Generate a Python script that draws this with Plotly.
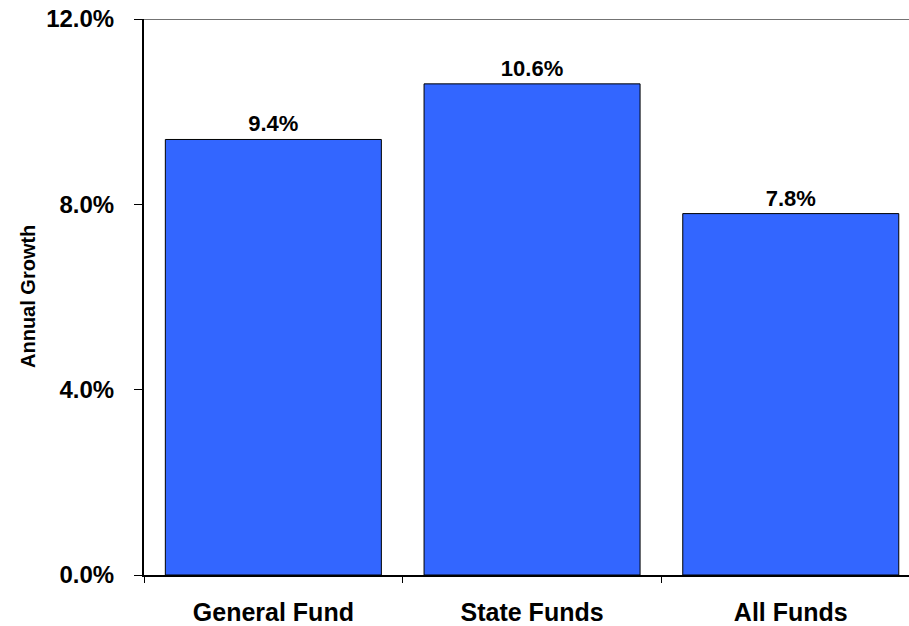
import plotly.graph_objects as go

categories = ["General Fund", "State Funds", "All Funds"]
growth_pct = [9.4, 10.6, 7.8]
y_ticks = [0, 4, 8, 12]
y_tick_labels = ["0.0%", "4.0%", "8.0%", "12.0%"]

W, H = 909, 626
left, top, bottom = 144, 19, 49

fig = go.Figure(
    go.Bar(
        x=categories,
        y=growth_pct,
        width=0.835,
        marker=dict(color="#3366FF", line=dict(color="#000000", width=1)),
        text=[f"{v:.1f}%" for v in growth_pct],
        textposition="outside",
        textfont=dict(family="Liberation Sans, Arial", size=22, color="#000000", weight="bold"),
        cliponaxis=False,
        hoverinfo="skip",
    )
)

fig.update_layout(
    width=W,
    height=H,
    margin=dict(l=left, r=0, t=top, b=bottom, pad=0),
    paper_bgcolor="white",
    plot_bgcolor="white",
    showlegend=False,
    font=dict(family="Liberation Sans, Arial", color="#000000"),
    xaxis=dict(
        range=[-0.5, 2.457],
        showgrid=False,
        showline=True,
        linecolor="#000000",
        linewidth=2,
        ticks="outside",
        tickson="boundaries",
        ticklen=6,
        tickwidth=1,
        tickcolor="#000000",
        tickfont=dict(size=25, weight="bold"),
        ticklabelstandoff=14,
        fixedrange=True,
    ),
    yaxis=dict(
        range=[0, 12],
        tickvals=y_ticks,
        ticktext=y_tick_labels,
        showgrid=False,
        zeroline=False,
        showline=True,
        linecolor="#000000",
        linewidth=2,
        ticks="outside",
        ticklen=8,
        tickwidth=1,
        tickcolor="#000000",
        tickfont=dict(size=24, weight="bold"),
        ticklabelstandoff=15,
        fixedrange=True,
    ),
    shapes=[
        dict(
            type="line", xref="paper", yref="y",
            x0=0, x1=1, y0=12, y1=12,
            line=dict(color="#444444", width=1.5),
        )
    ],
    annotations=[
        dict(
            text="Annual Growth",
            xref="paper", yref="paper",
            x=-(left - 28) / (W - left), y=0.5,
            xanchor="center", yanchor="middle",
            textangle=-90,
            showarrow=False,
            font=dict(size=20, weight="bold", color="#000000"),
        )
    ],
)

fig.write_html("out.html")
